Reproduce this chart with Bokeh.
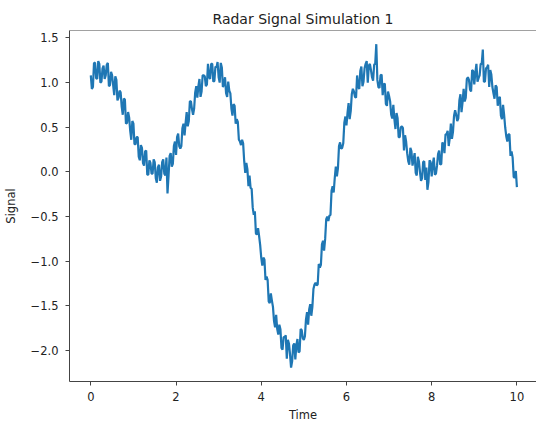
from bokeh.plotting import figure
from bokeh.models import FixedTicker, CustomJSTickFormatter, Range1d, Span
from bokeh.embed import file_html
from bokeh.resources import INLINE

signal = [
    1.08, 0.93, 0.95, 1.22, 1.22, 1.05, 1.04, 1.24, 1.21, 1.00, 1.01, 1.16, 1.19, 1.04, 1.08, 1.20, 1.22, 0.96, 0.97, 1.12,
    1.08, 0.97, 0.86, 1.07, 1.03, 0.80, 0.83, 0.91, 0.89, 0.73, 0.64, 0.82, 0.81, 0.54, 0.55, 0.67, 0.61, 0.46, 0.36, 0.57,
    0.54, 0.31, 0.31, 0.39, 0.39, 0.17, 0.13, 0.30, 0.27, 0.10, 0.07, 0.23, 0.24, -0.03, -0.03, 0.13, 0.10, -0.02, -0.02, 0.14,
    0.11, -0.07, -0.12, 0.05, 0.08, -0.10, -0.05, 0.11, 0.14, -0.02, -0.04, 0.16, -0.24, -0.04, 0.18, 0.21, 0.06, 0.09, 0.29, 0.34,
    0.19, 0.39, 0.43, 0.29, 0.26, 0.29, 0.49, 0.54, 0.41, 0.55, 0.67, 0.51, 0.57, 0.79, 0.79, 0.70, 0.64, 0.71, 0.89, 0.96,
    0.83, 0.96, 1.04, 0.84, 0.90, 1.08, 1.08, 1.07, 0.96, 0.98, 1.21, 1.06, 1.04, 1.21, 1.21, 1.01, 1.02, 1.18, 1.17, 1.23,
    1.06, 1.00, 1.22, 1.17, 0.95, 0.98, 1.06, 0.88, 0.84, 1.01, 0.91, 0.88, 0.71, 0.63, 0.76, 0.74, 0.54, 0.59, 0.56, 0.36,
    0.34, 0.30, 0.36, 0.32, 0.12, -0.01, 0.10, 0.03, -0.16, -0.04, -0.18, -0.19, -0.40, -0.48, -0.44, -0.69, -0.70, -0.63, -0.72, -0.82,
    -0.96, -1.05, -0.96, -0.98, -1.21, -1.17, -1.21, -1.45, -1.47, -1.36, -1.44, -1.51, -1.67, -1.74, -1.60, -1.76, -1.82, -1.71, -1.76, -1.97,
    -1.99, -1.85, -1.85, -1.83, -2.09, -1.88, -1.92, -2.04, -2.19, -2.12, -1.94, -1.92, -2.10, -1.94, -1.87, -2.02, -2.01, -1.76, -1.77, -1.86,
    -1.88, -1.84, -1.65, -1.57, -1.71, -1.54, -1.48, -1.61, -1.51, -1.31, -1.26, -1.24, -1.27, -1.26, -1.03, -1.07, -1.04, -0.81, -0.77, -0.88,
    -0.75, -0.53, -0.50, -0.55, -0.49, -0.48, -0.21, -0.16, -0.23, -0.07, 0.06, -0.05, 0.04, 0.29, 0.33, 0.26, 0.27, 0.32, 0.55, 0.62,
    0.52, 0.66, 0.77, 0.59, 0.68, 0.87, 0.93, 0.90, 0.84, 0.83, 1.08, 0.95, 0.93, 1.13, 1.18, 0.96, 1.01, 1.16, 1.21, 1.24,
    1.00, 1.19, 1.21, 1.14, 1.06, 1.02, 1.20, 1.21, 1.43, 1.03, 0.95, 0.94, 1.08, 1.09, 0.86, 0.98, 0.99, 0.76, 0.74, 0.90,
    0.85, 0.79, 0.64, 0.60, 0.75, 0.59, 0.48, 0.66, 0.60, 0.39, 0.39, 0.50, 0.51, 0.49, 0.24, 0.41, 0.34, 0.21, 0.12, 0.08,
    0.27, 0.23, 0.07, 0.14, 0.21, -0.01, -0.04, 0.17, 0.12, 0.00, -0.10, -0.07, 0.11, 0.12, -0.09, 0.05, -0.20, -0.11, 0.13, 0.11,
    -0.05, 0.08, 0.16, -0.03, -0.02, 0.07, 0.20, 0.24, 0.08, 0.09, 0.33, 0.31, 0.21, 0.42, 0.42, 0.46, 0.29, 0.38, 0.54, 0.37,
    0.45, 0.63, 0.69, 0.64, 0.57, 0.60, 0.80, 0.87, 0.67, 0.78, 0.93, 0.79, 0.83, 1.04, 1.06, 1.03, 0.92, 0.90, 1.14, 1.13,
    0.98, 1.11, 1.21, 1.01, 1.05, 1.08, 1.21, 1.21, 1.37, 1.01, 1.01, 1.16, 1.17, 1.20, 0.95, 1.14, 1.09, 0.95, 0.88, 0.82,
    0.97, 0.95, 0.74, 0.82, 0.84, 0.63, 0.59, 0.75, 0.64, 0.50, 0.40, 0.34, 0.42, 0.42, 0.18, 0.23, 0.16, -0.06, -0.06, 0.01,
    -0.17,
]
time = [round(i * 0.025, 3) for i in range(len(signal))]

x_ticks = [0, 2, 4, 6, 8, 10]
y_ticks = [-2.0, -1.5, -1.0, -0.5, 0.0, 0.5, 1.0, 1.5]
title_text = "Radar Signal Simulation 1"
x_label = "Time"
y_label = "Signal"

Y_START, Y_END = -2.346, 1.583
X_START, X_END = -0.5, 10.46

p = figure(
    width=536, height=424,
    output_backend="svg", toolbar_location=None,
    x_range=Range1d(X_START, X_END), y_range=Range1d(Y_START, Y_END),
    min_border_left=68, min_border_right=0, min_border_top=30, min_border_bottom=42,
    background_fill_color="white", border_fill_color="white",
)

p.line(time, signal, line_color="#1f77b4", line_width=2.2)

p.title.text = title_text
p.title.align = "center"
p.title.text_font = "DejaVu Sans"
p.title.text_font_size = "14px"
p.title.text_font_style = "normal"
p.title.text_color = "#222222"
p.title.standoff = 8

p.xgrid.visible = False
p.ygrid.visible = False
p.outline_line_color = None
p.add_layout(Span(location=Y_END, dimension="width", line_color="#444444", line_width=1))

p.xaxis.ticker = FixedTicker(ticks=x_ticks)
p.yaxis.ticker = FixedTicker(ticks=y_ticks)
p.yaxis.formatter = CustomJSTickFormatter(
    code="return (tick < 0 ? '\u2212' : '') + Math.abs(tick).toFixed(1);")
p.xaxis.axis_label = x_label
p.yaxis.axis_label = y_label

for ax in (p.xaxis[0], p.yaxis[0]):
    ax.major_tick_out = 4
    ax.major_tick_in = 0
    ax.minor_tick_out = 0
    ax.minor_tick_in = 0
    ax.axis_line_color = "#444444"
    ax.major_tick_line_color = "#444444"
    ax.major_label_text_font = "DejaVu Sans"
    ax.major_label_text_font_size = "11.5px"
    ax.major_label_text_color = "#222222"
    ax.axis_label_text_font = "DejaVu Sans"
    ax.axis_label_text_font_size = "11.5px"
    ax.axis_label_text_font_style = "normal"
    ax.axis_label_text_color = "#222222"

p.xaxis.major_label_standoff = 6
p.xaxis.axis_label_standoff = 4
p.yaxis.major_label_standoff = 7
p.yaxis.axis_label_standoff = 10

open("out.html", "w").write(file_html(p, INLINE))
